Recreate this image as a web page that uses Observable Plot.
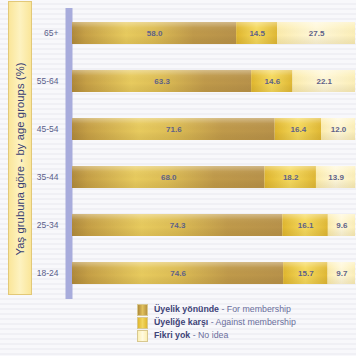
<!DOCTYPE html>
<html><head><meta charset="utf-8">
<script src="https://cdn.jsdelivr.net/npm/d3@7"></script>
<script src="https://cdn.jsdelivr.net/npm/@observablehq/plot@0.6"></script>
<style>
html,body{margin:0;padding:0;width:356px;height:356px;overflow:hidden;font-family:"Liberation Sans",Arial,sans-serif;
background:repeating-linear-gradient(180deg,#f8f8fb 0px,#f8f8fb 3px,#f0f0f5 3px,#f0f0f5 5px);}
#wrap{position:relative;width:356px;height:356px;}
#chart{position:absolute;left:0;top:0;}
#titlebox{position:absolute;left:8px;top:1px;width:24px;height:294px;background:linear-gradient(90deg,#fae69a,#fdf2c0,#fae69a);border:1px solid #e2c878;box-sizing:border-box;}
#titlebox span{position:absolute;left:50%;top:157px;transform:translate(-50%,-50%) rotate(-90deg);white-space:nowrap;font-size:11.2px;color:#3a3f72;letter-spacing:0.1px;}
#legend{position:absolute;left:137px;top:303px;font-size:8.8px;line-height:13px;}
.li{display:flex;align-items:center;height:13px;}
.sw{width:9px;height:10px;margin-right:6px;border:0.5px solid #d8c890;}
.tr{font-weight:bold;color:#3e4478;}
.en{color:#6a6e9c;}
</style></head>
<body><div id="wrap"><div id="chart"></div>
<div id="titlebox"><span>Yaş grubuna göre - by age groups (%)</span></div>
<div id="legend"></div></div>
<script>
const ageGroups = ["65+","55-64","45-54","35-44","25-34","18-24"];
const forMembership = [58.0,63.3,71.6,68.0,74.3,74.6];
const againstMembership = [14.5,14.6,16.4,18.2,16.1,15.7];
const noIdea = [27.5,22.1,12.0,13.9,9.6,9.7];
const seriesKeys = ["for","against","none"];
const seriesTR = ["Üyelik yönünde","Üyeliğe karşı","Fikri yok"];
const seriesEN = ["For membership","Against membership","No idea"];
const seriesFill = ["url(#gFor)","url(#gAgainst)","url(#gNone)"];
const swatchCss = ["linear-gradient(90deg,#b08a3a,#e0c05c,#b89440)","linear-gradient(90deg,#e0b830,#f2d660,#e0b830)","linear-gradient(90deg,#fdf0b4,#fffae0,#fdf0b4)"];

const rows = [];
ageGroups.forEach((g,i)=>{
  [forMembership[i],againstMembership[i],noIdea[i]].forEach((v,j)=>{
    rows.push({age:g, series:seriesKeys[j], value:v, order:j});
  });
});

const chart = Plot.plot({
  width:356, height:300,
  marginLeft:72, marginRight:1, marginTop:8, marginBottom:1,
  style:{background:"transparent", fontFamily:"Liberation Sans, Arial, sans-serif"},
  x:{domain:[0,100], axis:null},
  y:{domain:ageGroups, paddingInner:0.54, paddingOuter:0.3, label:null, tickSize:0, tickPadding:14},
  color:{domain:seriesKeys, range:seriesFill},
  marks:[
    Plot.ruleX([0],{stroke:"#a8acdc", strokeWidth:7, dx:-3.5}),
    Plot.barX(rows, Plot.stackX({x:"value", y:"age", fill:"series", order:"order", inset:0})),
    Plot.barX(rows, Plot.stackX({x:"value", y:"age", order:"order", fill:"url(#gShade)", inset:0})),
    Plot.text(rows, Plot.stackX({x:"value", y:"age", order:"order", text:d=>d.value.toFixed(1), fill:"#5e6288", fontSize:8, fontWeight:"bold"})),
    Plot.axisY({tickSize:0, tickPadding:14, fontSize:8.5, color:"#5a5e8a"})
  ]
});
// gradients
const ns="http://www.w3.org/2000/svg";
const defs=document.createElementNS(ns,"defs");
function grad(id,stops,vertical){
  const lg=document.createElementNS(ns,"linearGradient");
  lg.setAttribute("id",id);lg.setAttribute("x1","0");lg.setAttribute("x2",vertical?"0":"1");lg.setAttribute("y1","0");lg.setAttribute("y2",vertical?"1":"0");
  stops.forEach(([o,c,op])=>{const s=document.createElementNS(ns,"stop");s.setAttribute("offset",o);s.setAttribute("stop-color",c);if(op!=null)s.setAttribute("stop-opacity",op);lg.appendChild(s);});
  defs.appendChild(lg);
}
grad("gFor",[[0,"#b08a3c"],[0.08,"#c6a046"],[0.33,"#e8cb5e"],[0.5,"#ddbd55"],[0.74,"#c09a4a"],[1,"#b8924a"]]);
grad("gAgainst",[[0,"#e0b62e"],[0.5,"#f6da5e"],[1,"#e0b834"]]);
grad("gNone",[[0,"#fcecac"],[0.5,"#fff8da"],[1,"#fcefb8"]]);
grad("gShade",[[0,"#ffffff",0.35],[0.25,"#ffffff",0.05],[0.6,"#000000",0],[1,"#6a4a10",0.1]],true);
chart.insertBefore(defs, chart.firstChild);
document.getElementById("chart").appendChild(chart);

const lg=document.getElementById("legend");
seriesKeys.forEach((k,i)=>{
  const d=document.createElement("div");d.className="li";
  d.innerHTML=`<div class="sw" style="background:${swatchCss[i]}"></div><span class="tr">${seriesTR[i]}</span><span class="en">&nbsp;- ${seriesEN[i]}</span>`;
  lg.appendChild(d);
});
</script></body></html>
